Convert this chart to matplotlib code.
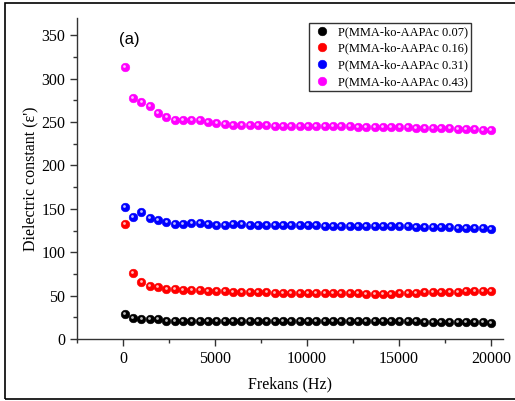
import numpy as np
import matplotlib
matplotlib.use("Agg")
import matplotlib.pyplot as plt
from matplotlib.patches import Rectangle
from matplotlib.ticker import MultipleLocator
import matplotlib.transforms as mtransforms

# Frequency sweep (Hz)
freq = np.linspace(100, 20000, 45)

eps_007 = [28.9, 23.9, 23.5, 23.0, 22.7, 21.0, 21.0, 21.0, 21.2, 21.2,
           21.0, 21.0, 21.0, 21.2, 21.3, 21.2, 21.2, 21.3, 21.3, 21.2,
           21.0, 21.0, 21.0, 20.8, 20.8, 20.8, 20.8, 20.8, 20.8, 20.6,
           20.6, 20.5, 20.5, 20.4, 20.3, 20.2, 20.0, 20.0, 19.8, 19.6,
           19.5, 19.3, 19.2, 19.1, 19.0]
eps_016 = [133.0, 75.8, 65.8, 61.6, 59.7, 57.4, 57.5, 56.6, 56.0, 56.0,
           55.5, 55.2, 55.0, 54.6, 54.5, 54.2, 54.0, 53.8, 53.5, 53.5,
           53.3, 53.2, 53.0, 53.0, 53.0, 52.8, 52.8, 52.6, 52.5, 52.2,
           52.0, 51.8, 51.5, 52.8, 53.2, 53.0, 53.8, 54.0, 54.2, 54.4,
           54.6, 54.8, 55.0, 55.2, 55.4]
eps_031 = [152.4, 141.0, 146.0, 140.0, 137.0, 134.7, 133.0, 132.5, 134.0, 134.0,
           133.0, 131.3, 131.3, 132.0, 132.0, 131.0, 131.0, 131.5, 131.5, 131.2,
           131.0, 131.0, 131.0, 131.0, 130.8, 130.8, 130.6, 130.5, 130.5, 130.3,
           130.2, 130.0, 130.0, 130.0, 129.8, 129.6, 129.5, 129.3, 129.0, 128.8,
           128.5, 128.3, 128.0, 127.6, 127.2]
eps_043 = [314.0, 278.0, 273.5, 268.5, 260.0, 255.6, 253.0, 252.0, 252.0, 252.0,
           250.0, 249.0, 248.0, 247.2, 247.0, 246.5, 246.3, 246.2, 246.0, 246.0,
           245.8, 245.7, 245.5, 245.4, 245.3, 245.2, 245.0, 245.0, 244.8, 244.6,
           244.5, 244.4, 244.2, 244.0, 243.8, 243.6, 243.4, 243.2, 243.0, 242.7,
           242.4, 242.0, 241.6, 241.2, 241.0]

labels = ["P(MMA-ko-AAPAc 0.07)", "P(MMA-ko-AAPAc 0.16)",
          "P(MMA-ko-AAPAc 0.31)", "P(MMA-ko-AAPAc 0.43)"]
colors = ["#000000", "#ff0000", "#0000ff", "#ff00ff"]
series = [eps_007, eps_016, eps_031, eps_043]

plt.rcParams["font.family"] = ["Liberation Serif", "DejaVu Serif"]

fig = plt.figure(figsize=(5.15, 4.01), dpi=100)
ax = fig.add_axes([77 / 515, 1 - 339 / 401, (503 - 77) / 515, (339 - 18) / 401])

# highlight offset for the ball-style markers
hl = mtransforms.ScaledTranslation(-0.8 / 100, 1.0 / 100, fig.dpi_scale_trans)

handles = []
for vals, c, lab in zip(series, colors, labels):
    h, = ax.plot(freq, vals, linestyle="none", marker="o", markersize=6.2,
                 markerfacecolor=c, markeredgecolor=c, markeredgewidth=0.4,
                 label=lab, zorder=3)
    ax.plot(freq, vals, linestyle="none", marker="o", markersize=2.0,
            markerfacecolor="white", markeredgewidth=0, alpha=0.75,
            transform=ax.transData + hl, zorder=4)
    handles.append(h)

ax.set_xlim(-2500, 20650)
ax.set_ylim(0, 370)
ax.xaxis.set_major_locator(MultipleLocator(5000))
ax.xaxis.set_minor_locator(MultipleLocator(2500))
ax.yaxis.set_major_locator(MultipleLocator(50))
ax.yaxis.set_minor_locator(MultipleLocator(25))

for s in ["top", "right"]:
    ax.spines[s].set_visible(False)
for s in ["left", "bottom"]:
    ax.spines[s].set_linewidth(1.0)
    ax.spines[s].set_color("#333333")

ax.tick_params(axis="both", which="major", direction="out", length=5,
               width=1.0, labelsize=11.5, colors="#333333", labelcolor="black")
ax.tick_params(axis="both", which="minor", direction="out", length=3,
               width=1.0, colors="#333333")

ax.set_xlabel("Frekans (Hz)", fontsize=11.5, labelpad=7)
ax.set_ylabel("Dielectric constant (\u03b5')", fontsize=11.5, labelpad=2)

ax.text(-210, 345, "(a)", fontsize=12, family=["Liberation Sans", "DejaVu Sans"],
        ha="left", va="center")

leg = ax.legend(handles=handles, loc="upper left",
                bbox_to_anchor=((309 - 77) / (503 - 77), (339 - 23) / (339 - 18)),
                fontsize=8.9, frameon=True, fancybox=False, borderpad=0.25,
                labelspacing=0.38, handletextpad=0.5, handlelength=1.6,
                borderaxespad=0, markerscale=1.0)
leg.get_frame().set_edgecolor("black")
leg.get_frame().set_linewidth(1.0)

# outer border around the whole figure
fig.patches.append(Rectangle((5 / 515, 2 / 401), 1.2, 1 - 5 / 401,
                             transform=fig.transFigure, fill=False,
                             edgecolor="black", linewidth=1.2, zorder=10))

fig.savefig("out.png", dpi=100)
